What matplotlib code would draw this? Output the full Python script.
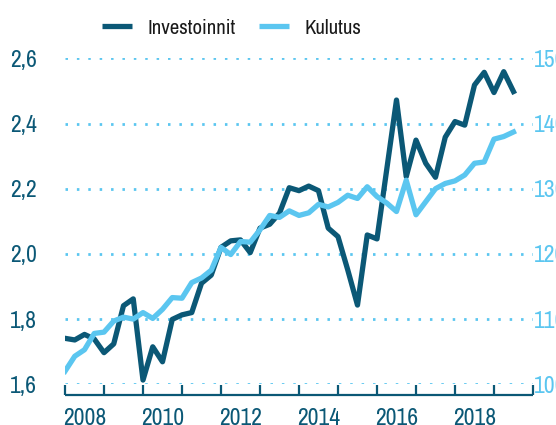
import matplotlib
matplotlib.use('Agg')
import matplotlib.pyplot as plt
import matplotlib.transforms as mtransforms
from matplotlib.lines import Line2D
from matplotlib.collections import LineCollection
import numpy as np

DARK = '#0b5876'
LIGHT = '#5bc6f0'

# neljännesvuosisarjat 2008Q1 alkaen
START_YEAR = 2008
investoinnit = [1.741, 1.736, 1.753, 1.739, 1.697, 1.724, 1.841, 1.862,
                1.613, 1.715, 1.669, 1.799, 1.813, 1.820, 1.910, 1.935,
                2.020, 2.040, 2.043, 2.004, 2.079, 2.091, 2.125, 2.203,
                2.194, 2.208, 2.194, 2.079, 2.053, 1.951, 1.843, 2.058,
                2.046, 2.259, 2.472, 2.237, 2.349, 2.278, 2.235, 2.358,
                2.406, 2.395, 2.518, 2.557, 2.495, 2.559, 2.498]
kulutus = [102.0, 104.3, 105.3, 107.8, 108.0, 109.7, 110.3, 110.0,
           111.0, 110.1, 111.5, 113.3, 113.2, 115.6, 116.3, 117.5,
           121.0, 119.9, 121.9, 121.8, 123.7, 125.9, 125.6, 126.6,
           125.9, 126.3, 127.6, 127.2, 127.9, 129.0, 128.5, 130.3,
           128.8, 127.8, 126.5, 131.3, 126.0, 128.0, 130.0, 130.8,
           131.2, 132.1, 133.9, 134.1, 137.6, 138.0, 138.7]
year_labels = ['2008', '2010', '2012', '2014', '2016', '2018']
year_edges = list(range(2008, 2021))
left_ticks = [1.6, 1.8, 2.0, 2.2, 2.4, 2.6]
right_ticks = [100, 110, 120, 130, 140, 150]

t = START_YEAR + np.arange(len(investoinnit)) * 0.25

plt.rcParams['font.family'] = ['Archivo Narrow', 'DejaVu Sans']
plt.rcParams['font.size'] = 17

fig = plt.figure(figsize=(5.56, 4.25), dpi=100)
ax = fig.add_axes([0.1169, 0.0958, 0.8417, 0.767])
ax2 = ax.twinx()

ax.set_xlim(year_edges[0], year_edges[-1])
ax.set_ylim(left_ticks[0], left_ticks[-1])
ax2.set_ylim(right_ticks[0], right_ticks[-1])

# katkoviivaruudukko
for y in left_ticks:
    ax.axhline(y, color=LIGHT, lw=2.0, linestyle=(0, (0.9, 3.2)), zorder=1)

l1, = ax.plot(t, investoinnit, color=DARK, lw=3.8, zorder=3)
l2, = ax2.plot(t, kulutus, color=LIGHT, lw=3.8, zorder=3)

for a in (ax, ax2):
    for s in ('top', 'left', 'right', 'bottom'):
        a.spines[s].set_visible(False)

ax.set_xticks([int(y) + 0.5 for y in year_labels])
ax.set_xticklabels(year_labels)
ax.tick_params(axis='x', length=0, pad=17, labelcolor=DARK)

ax.set_yticks(left_ticks)
ax.set_yticklabels([f'{v:.1f}'.replace('.', ',') for v in left_ticks])
ax.tick_params(axis='y', length=0, pad=20, labelcolor=DARK)
ax2.set_yticks(right_ticks)
ax2.tick_params(axis='y', length=0, pad=1, labelcolor=LIGHT)

ax2.set_zorder(ax.get_zorder() + 1)
ax2.patch.set_visible(False)

leg = fig.legend([l1, l2], ['Investoinnit', 'Kulutus'], loc='center', ncol=2,
                 bbox_to_anchor=(0.417, 0.934), frameon=False, fontsize=15,
                 handlelength=1.45, handletextpad=0.75, columnspacing=1.1)
for txt in leg.get_texts():
    txt.set_color('#1a1a1a')
for h in leg.legend_handles:
    h.set_solid_capstyle('butt')

# aika-akseli: perusviiva hieman kuvaajan alapuolella, vuosiviivat ylöspäin
base = mtransforms.offset_copy(ax.transAxes, fig=fig, y=-8, units='points')
fig.add_artist(Line2D([0, 1], [0, 0], transform=base, color=DARK, lw=1.6,
                      solid_capstyle='butt', zorder=10))
tick_tr = mtransforms.blended_transform_factory(ax.transData, base)
tick_h = 7.5 / (fig.get_figheight() * 72 * ax.get_position().height)
fig.add_artist(LineCollection([[(x, 0), (x, tick_h)] for x in year_edges],
                              transform=tick_tr, colors=DARK, linewidths=1.6,
                              zorder=10))

fig.savefig('out.png', dpi=100)
